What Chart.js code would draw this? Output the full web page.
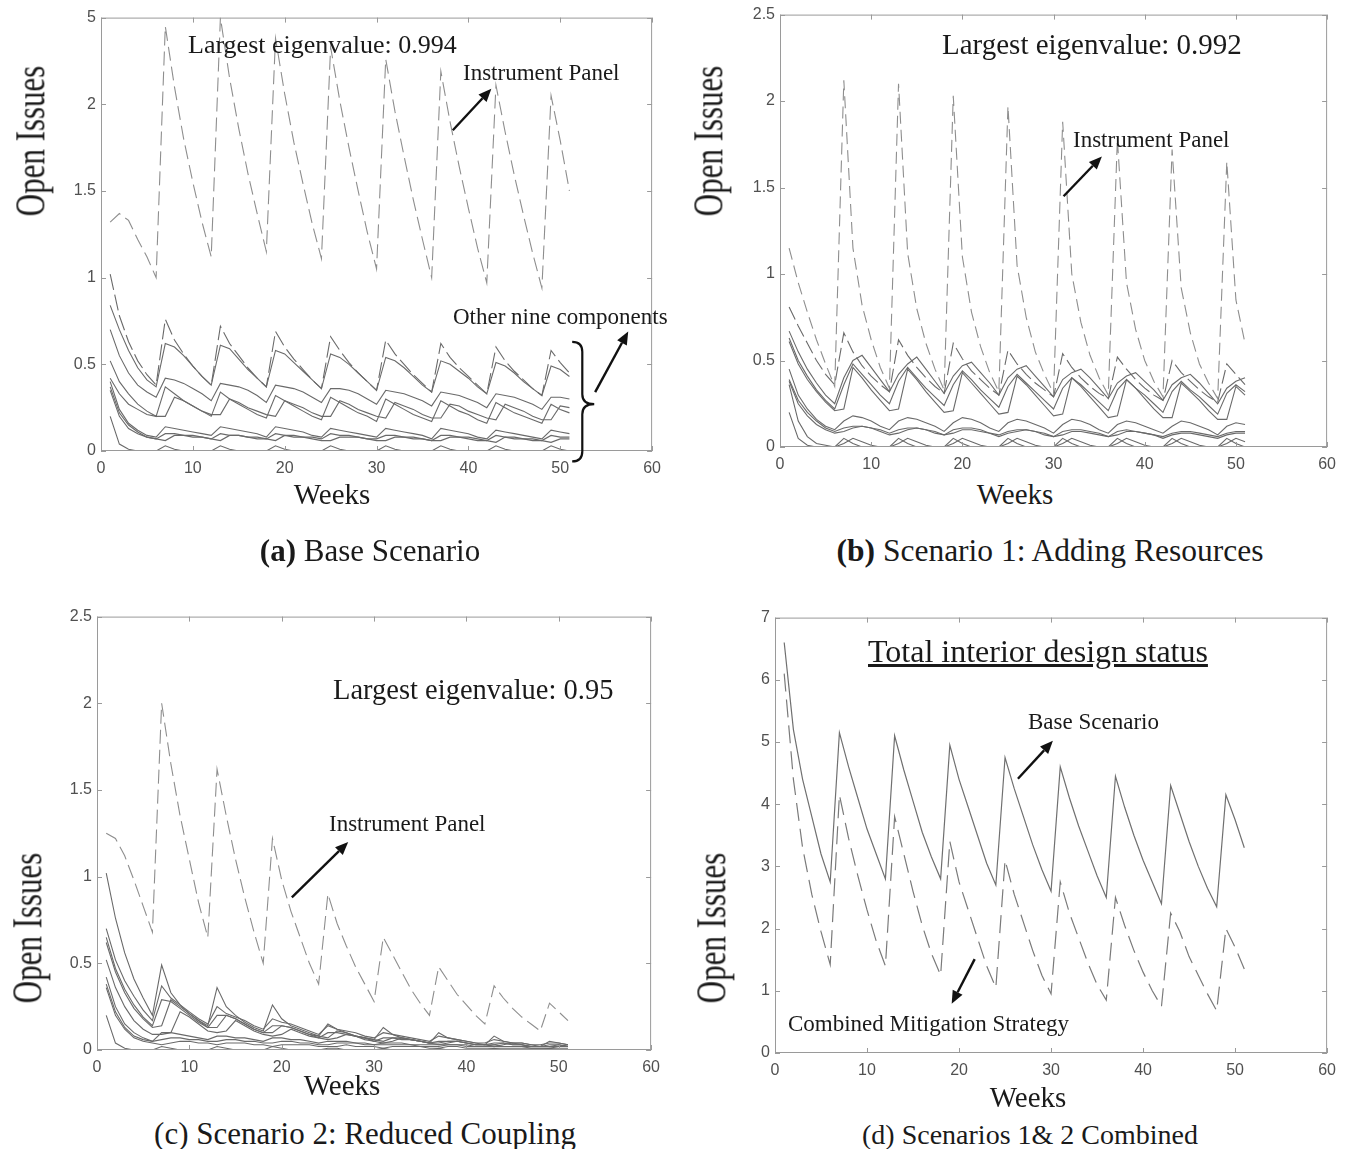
<!DOCTYPE html>
<html>
<head>
<meta charset="utf-8">
<title>Open issues per week</title>
<script src="https://cdn.jsdelivr.net/npm/chart.js"></script>
<style>
  body { margin: 0; background: #fff; width: 1349px; height: 1149px; position: relative; overflow: hidden; font-family: "Liberation Serif", "Times New Roman", serif; color: #1a1a1a; }
  canvas { position: absolute; }
  .t { position: absolute; white-space: nowrap; line-height: 1; transform: translate(0, -50%); }
  .c { transform: translate(-50%, -50%); }
  .yl { position: absolute; white-space: nowrap; line-height: 1; font-size: 31px; transform: translate(-50%, -50%) rotate(-90deg) scaleY(1.35); }
  .note { font-size: 23px; }
  .wk { font-size: 29px; }
</style>
</head>
<body>

<canvas id="pa"></canvas>
<canvas id="pb"></canvas>
<canvas id="pc"></canvas>
<canvas id="pd"></canvas>

<!-- (a) -->
<div class="t" style="left:188px;top:45px;font-size:26px">Largest eigenvalue: 0.994</div>
<div class="t note" style="left:463px;top:72px">Instrument Panel</div>
<div class="t note" style="left:453px;top:316px">Other nine components</div>
<div class="yl" style="left:30px;top:141px">Open Issues</div>
<div class="t c wk" style="left:332px;top:494px">Weeks</div>
<div class="t c" style="left:370px;top:550px;font-size:31px"><b>(a)</b> Base Scenario</div>

<!-- (b) -->
<div class="t" style="left:942px;top:44px;font-size:29px">Largest eigenvalue: 0.992</div>
<div class="t note" style="left:1073px;top:139px">Instrument Panel</div>
<div class="yl" style="left:708px;top:141px">Open Issues</div>
<div class="t c wk" style="left:1015px;top:494px">Weeks</div>
<div class="t c" style="left:1050px;top:551px;font-size:31.5px"><b>(b)</b> Scenario 1: Adding Resources</div>

<!-- (c) -->
<div class="t" style="left:333px;top:690px;font-size:28.5px">Largest eigenvalue: 0.95</div>
<div class="t note" style="left:329px;top:823px">Instrument Panel</div>
<div class="yl" style="left:27px;top:928px">Open Issues</div>
<div class="t c wk" style="left:342px;top:1085px">Weeks</div>
<div class="t c" style="left:365px;top:1133px;font-size:31px">(c) Scenario 2: Reduced Coupling</div>

<!-- (d) -->
<div class="t" style="left:868px;top:651px;font-size:32px;text-decoration:underline">Total interior design status</div>
<div class="t note" style="left:1028px;top:721px">Base Scenario</div>
<div class="t note" style="left:788px;top:1023px">Combined Mitigation Strategy</div>
<div class="yl" style="left:711px;top:928px">Open Issues</div>
<div class="t c wk" style="left:1028px;top:1097px">Weeks</div>
<div class="t c" style="left:1030px;top:1135px;font-size:28px">(d) Scenarios 1&amp; 2 Combined</div>

<script>
// weeks on the x axis
const weeks = [1,2,3,4,5,6,7,8,9,10,11,12,13,14,15,16,17,18,19,20,21,22,23,24,25,26,27,28,29,30,31,32,33,34,35,36,37,38,39,40,41,42,43,44,45,46,47,48,49,50,51];
const xTicks = [0, 10, 20, 30, 40, 50, 60];

// (a) base scenario
const ipA = [1.32,1.37,1.33,1.22,1.12,1.00, 2.45,2.10,1.80,1.55,1.32,1.12, 2.50,2.15,1.86,1.60,1.37,1.15, 2.38,2.06,1.78,1.54,1.31,1.11, 2.33,2.02,1.75,1.50,1.26,1.05, 2.26,1.96,1.70,1.45,1.22,1.00, 2.19,1.90,1.64,1.40,1.17,0.97, 2.11,1.84,1.59,1.36,1.14,0.94, 2.05,1.79,1.50];
const a1 = [1.02,0.78,0.63,0.52,0.44,0.38, 0.76,0.64,0.56,0.49,0.43,0.38, 0.72,0.62,0.55,0.48,0.42,0.37, 0.69,0.60,0.53,0.47,0.41,0.36, 0.66,0.58,0.51,0.45,0.40,0.35, 0.64,0.56,0.50,0.44,0.39,0.34, 0.62,0.54,0.48,0.43,0.38,0.33, 0.60,0.52,0.46,0.41,0.36,0.32, 0.58,0.51,0.45];
const a2 = [0.84,0.70,0.58,0.48,0.41,0.37, 0.62,0.60,0.55,0.49,0.43,0.38, 0.61,0.59,0.53,0.47,0.42,0.37, 0.58,0.56,0.51,0.46,0.41,0.36, 0.56,0.54,0.50,0.45,0.40,0.35, 0.54,0.52,0.48,0.43,0.38,0.34, 0.52,0.50,0.46,0.42,0.37,0.33, 0.51,0.49,0.45,0.40,0.36,0.32, 0.49,0.47,0.43];
const a3 = [0.70,0.55,0.45,0.38,0.34,0.31, 0.42,0.41,0.39,0.36,0.33,0.29, 0.39,0.38,0.37,0.35,0.32,0.28, 0.38,0.37,0.36,0.34,0.31,0.28, 0.36,0.36,0.35,0.33,0.30,0.27, 0.35,0.34,0.33,0.31,0.29,0.26, 0.34,0.33,0.32,0.30,0.28,0.25, 0.33,0.32,0.31,0.29,0.27,0.24, 0.31,0.31,0.30];
const a4 = [0.52,0.40,0.33,0.27,0.23,0.20, 0.37,0.33,0.29,0.26,0.23,0.20, 0.34,0.30,0.27,0.24,0.21,0.19, 0.32,0.29,0.26,0.23,0.20,0.18, 0.31,0.28,0.25,0.22,0.20,0.17, 0.30,0.27,0.24,0.21,0.19,0.17, 0.29,0.26,0.23,0.21,0.18,0.16, 0.28,0.25,0.22,0.20,0.18,0.16, 0.27,0.24,0.22];
const a5 = [0.42,0.33,0.27,0.24,0.21,0.20, 0.20,0.31,0.29,0.26,0.23,0.21, 0.21,0.30,0.28,0.25,0.23,0.21, 0.20,0.29,0.27,0.25,0.22,0.20, 0.20,0.29,0.27,0.24,0.22,0.20, 0.19,0.28,0.26,0.24,0.21,0.19, 0.19,0.27,0.26,0.23,0.21,0.19, 0.18,0.27,0.25,0.23,0.20,0.18, 0.18,0.26,0.25];
const a6 = [0.40,0.24,0.16,0.12,0.09,0.08, 0.14,0.13,0.12,0.11,0.10,0.09, 0.14,0.13,0.12,0.11,0.10,0.08, 0.14,0.13,0.12,0.11,0.09,0.08, 0.13,0.12,0.11,0.10,0.09,0.08, 0.13,0.12,0.11,0.10,0.09,0.07, 0.13,0.12,0.11,0.10,0.08,0.07, 0.12,0.11,0.10,0.09,0.08,0.07, 0.12,0.11,0.10];
const a7 = [0.37,0.22,0.15,0.11,0.08,0.07, 0.10,0.10,0.09,0.09,0.08,0.07, 0.10,0.09,0.09,0.08,0.08,0.07, 0.10,0.09,0.09,0.08,0.08,0.07, 0.10,0.09,0.09,0.08,0.07,0.07, 0.09,0.09,0.08,0.08,0.07,0.06, 0.09,0.09,0.08,0.08,0.07,0.06, 0.09,0.08,0.08,0.07,0.07,0.06, 0.09,0.08,0.08];
const a8 = [0.35,0.20,0.13,0.10,0.08,0.07, 0.06,0.09,0.09,0.08,0.08,0.07, 0.06,0.09,0.09,0.08,0.07,0.07, 0.06,0.09,0.08,0.08,0.07,0.06, 0.06,0.08,0.08,0.08,0.07,0.06, 0.06,0.08,0.08,0.07,0.07,0.06, 0.06,0.08,0.08,0.07,0.06,0.06, 0.05,0.08,0.07,0.07,0.06,0.06, 0.05,0.07,0.07];
const a9 = [0.20,0.04,0.01,0.00,0.00,0.00, 0.03,0.01,0.00,0.00,0.00,0.00, 0.03,0.01,0.00,0.00,0.00,0.00, 0.03,0.01,0.00,0.00,0.00,0.00, 0.03,0.01,0.00,0.00,0.00,0.00, 0.03,0.01,0.00,0.00,0.00,0.00, 0.03,0.01,0.00,0.00,0.00,0.00, 0.03,0.01,0.00,0.00,0.00,0.00, 0.03,0.01,0.00];

// (b) adding resources
const ipB = [1.15,0.95,0.78,0.62,0.48,0.35, 2.12,1.15,0.82,0.62,0.46,0.34, 2.10,1.12,0.80,0.60,0.45,0.33, 2.03,1.10,0.78,0.58,0.43,0.32, 1.97,1.05,0.75,0.55,0.42,0.31, 1.88,1.00,0.72,0.53,0.40,0.30, 1.78,0.95,0.68,0.50,0.38,0.29, 1.72,0.92,0.66,0.48,0.37,0.28, 1.65,0.85,0.60];
const b1 = [0.81,0.70,0.60,0.50,0.42,0.36, 0.66,0.55,0.47,0.41,0.36,0.32, 0.62,0.53,0.46,0.40,0.35,0.31, 0.60,0.51,0.44,0.39,0.34,0.30, 0.56,0.48,0.42,0.37,0.33,0.29, 0.54,0.46,0.40,0.35,0.31,0.28, 0.52,0.45,0.39,0.34,0.30,0.27, 0.50,0.43,0.38,0.33,0.29,0.26, 0.48,0.42,0.36];
const b2 = [0.67,0.55,0.45,0.37,0.30,0.25, 0.40,0.50,0.53,0.46,0.39,0.32, 0.42,0.48,0.52,0.45,0.38,0.31, 0.41,0.47,0.49,0.43,0.37,0.30, 0.40,0.45,0.47,0.41,0.35,0.29, 0.39,0.43,0.45,0.40,0.34,0.28, 0.37,0.41,0.43,0.38,0.33,0.27, 0.36,0.40,0.42,0.37,0.31,0.25, 0.34,0.38,0.40];
const b3 = [0.63,0.50,0.41,0.33,0.27,0.22, 0.36,0.48,0.42,0.36,0.30,0.25, 0.38,0.46,0.40,0.34,0.29,0.24, 0.36,0.44,0.39,0.33,0.28,0.23, 0.35,0.42,0.37,0.32,0.27,0.22, 0.34,0.40,0.36,0.31,0.26,0.21, 0.33,0.39,0.34,0.30,0.25,0.20, 0.32,0.38,0.33,0.29,0.24,0.19, 0.31,0.36,0.32];
const b4 = [0.61,0.48,0.39,0.32,0.26,0.21, 0.22,0.46,0.40,0.33,0.27,0.21, 0.22,0.45,0.39,0.32,0.26,0.20, 0.21,0.43,0.37,0.31,0.25,0.19, 0.20,0.41,0.36,0.30,0.24,0.18, 0.19,0.40,0.35,0.29,0.23,0.17, 0.18,0.39,0.34,0.28,0.22,0.17, 0.17,0.37,0.32,0.27,0.21,0.16, 0.16,0.35,0.30];
const b5 = [0.45,0.30,0.22,0.16,0.12,0.10, 0.15,0.18,0.17,0.15,0.12,0.10, 0.15,0.17,0.16,0.14,0.12,0.09, 0.14,0.17,0.16,0.14,0.11,0.09, 0.14,0.16,0.15,0.13,0.11,0.08, 0.13,0.16,0.15,0.13,0.10,0.08, 0.13,0.15,0.14,0.12,0.10,0.08, 0.12,0.15,0.14,0.12,0.10,0.07, 0.12,0.14,0.13];
const b6 = [0.39,0.27,0.20,0.15,0.11,0.09, 0.11,0.12,0.12,0.11,0.10,0.08, 0.10,0.11,0.11,0.10,0.09,0.07, 0.10,0.11,0.11,0.10,0.08,0.07, 0.09,0.10,0.10,0.09,0.08,0.06, 0.09,0.10,0.10,0.09,0.08,0.06, 0.09,0.10,0.09,0.08,0.07,0.06, 0.08,0.09,0.09,0.08,0.07,0.06, 0.08,0.09,0.09];
const b7 = [0.38,0.25,0.18,0.13,0.10,0.08, 0.09,0.11,0.12,0.11,0.09,0.07, 0.08,0.10,0.11,0.10,0.08,0.07, 0.08,0.10,0.10,0.09,0.08,0.06, 0.08,0.09,0.10,0.09,0.07,0.06, 0.07,0.09,0.09,0.08,0.07,0.06, 0.07,0.09,0.09,0.08,0.07,0.05, 0.07,0.08,0.08,0.07,0.06,0.05, 0.07,0.08,0.08];
const b8 = [0.20,0.05,0.01,0.00,0.00,0.00, 0.05,0.02,0.00,0.00,0.00,0.00, 0.05,0.02,0.00,0.00,0.00,0.00, 0.05,0.02,0.00,0.00,0.00,0.00, 0.05,0.02,0.00,0.00,0.00,0.00, 0.05,0.02,0.00,0.00,0.00,0.00, 0.05,0.02,0.00,0.00,0.00,0.00, 0.05,0.02,0.00,0.00,0.00,0.00, 0.05,0.02,0.00];
const b9 = [0.36,0.15,0.06,0.02,0.01,0.00, 0.02,0.05,0.03,0.01,0.00,0.00, 0.02,0.05,0.03,0.01,0.00,0.00, 0.02,0.05,0.03,0.01,0.00,0.00, 0.02,0.05,0.03,0.01,0.00,0.00, 0.02,0.05,0.03,0.01,0.00,0.00, 0.02,0.05,0.03,0.01,0.00,0.00, 0.02,0.05,0.03,0.01,0.00,0.00, 0.02,0.05,0.03];

// (c) reduced coupling
const ipC = [1.25,1.22,1.12,0.98,0.83,0.68, 2.00,1.65,1.35,1.10,0.85,0.65, 1.62,1.35,1.10,0.88,0.68,0.50, 1.22,0.98,0.80,0.65,0.50,0.38, 0.90,0.73,0.60,0.48,0.38,0.28, 0.65,0.55,0.45,0.35,0.27,0.20, 0.48,0.40,0.32,0.26,0.20,0.15, 0.37,0.30,0.24,0.19,0.15,0.11, 0.27,0.22,0.17];
const c1 = [1.02,0.76,0.56,0.41,0.30,0.20, 0.49,0.33,0.26,0.21,0.17,0.14, 0.36,0.25,0.20,0.16,0.13,0.11, 0.26,0.18,0.14,0.12,0.10,0.08, 0.15,0.12,0.10,0.08,0.07,0.06, 0.13,0.09,0.07,0.06,0.05,0.04, 0.10,0.07,0.06,0.05,0.04,0.03, 0.08,0.05,0.04,0.04,0.03,0.02, 0.05,0.04,0.03];
const c2 = [0.70,0.52,0.40,0.31,0.23,0.17, 0.37,0.30,0.26,0.22,0.18,0.15, 0.25,0.21,0.19,0.17,0.14,0.12, 0.18,0.16,0.15,0.13,0.11,0.09, 0.14,0.12,0.11,0.10,0.08,0.07, 0.10,0.09,0.08,0.07,0.06,0.05, 0.08,0.07,0.06,0.05,0.04,0.04, 0.06,0.05,0.04,0.04,0.03,0.03, 0.04,0.04,0.03];
const c3 = [0.65,0.47,0.35,0.26,0.19,0.14, 0.29,0.28,0.24,0.20,0.16,0.13, 0.20,0.20,0.18,0.15,0.12,0.10, 0.14,0.14,0.13,0.11,0.09,0.07, 0.10,0.10,0.09,0.08,0.07,0.05, 0.07,0.07,0.06,0.06,0.05,0.04, 0.05,0.05,0.05,0.04,0.03,0.03, 0.04,0.04,0.03,0.03,0.02,0.02, 0.03,0.03,0.02];
const c4 = [0.62,0.45,0.33,0.24,0.18,0.13, 0.14,0.29,0.25,0.21,0.17,0.13, 0.13,0.20,0.18,0.15,0.12,0.10, 0.10,0.14,0.13,0.11,0.09,0.08, 0.07,0.11,0.10,0.08,0.07,0.06, 0.05,0.07,0.07,0.06,0.05,0.04, 0.04,0.05,0.05,0.04,0.03,0.03, 0.03,0.04,0.03,0.03,0.02,0.02, 0.02,0.03,0.02];
const c5 = [0.52,0.36,0.25,0.17,0.12,0.09, 0.09,0.10,0.22,0.19,0.15,0.11, 0.10,0.11,0.17,0.14,0.11,0.09, 0.08,0.09,0.12,0.10,0.08,0.07, 0.06,0.07,0.09,0.08,0.06,0.05, 0.04,0.05,0.07,0.06,0.05,0.04, 0.03,0.04,0.05,0.04,0.03,0.03, 0.02,0.03,0.04,0.03,0.02,0.02, 0.02,0.02,0.03];
const c6 = [0.42,0.25,0.15,0.10,0.07,0.05, 0.10,0.10,0.09,0.08,0.07,0.06, 0.08,0.08,0.07,0.07,0.06,0.05, 0.07,0.07,0.06,0.06,0.05,0.04, 0.05,0.05,0.05,0.04,0.04,0.03, 0.04,0.04,0.04,0.03,0.03,0.03, 0.03,0.03,0.03,0.03,0.02,0.02, 0.03,0.02,0.02,0.02,0.02,0.02, 0.02,0.02,0.02];
const c7 = [0.38,0.22,0.13,0.08,0.06,0.05, 0.06,0.07,0.07,0.06,0.06,0.05, 0.05,0.06,0.06,0.05,0.05,0.04, 0.04,0.05,0.05,0.04,0.04,0.03, 0.03,0.04,0.04,0.04,0.03,0.03, 0.03,0.03,0.03,0.03,0.02,0.02, 0.02,0.03,0.03,0.02,0.02,0.02, 0.02,0.02,0.02,0.02,0.01,0.01, 0.01,0.02,0.02];
const c8 = [0.36,0.20,0.12,0.07,0.05,0.04, 0.03,0.04,0.05,0.05,0.04,0.04, 0.03,0.04,0.04,0.04,0.03,0.03, 0.02,0.03,0.03,0.03,0.03,0.02, 0.02,0.02,0.03,0.02,0.02,0.02, 0.01,0.02,0.02,0.02,0.02,0.01, 0.01,0.02,0.02,0.01,0.01,0.01, 0.01,0.01,0.01,0.01,0.01,0.01, 0.01,0.01,0.01];
const c9 = [0.20,0.04,0.01,0.00,0.00,0.00, 0.02,0.01,0.00,0.00,0.00,0.00, 0.02,0.01,0.00,0.00,0.00,0.00, 0.02,0.01,0.00,0.00,0.00,0.00, 0.01,0.01,0.00,0.00,0.00,0.00, 0.01,0.00,0.00,0.00,0.00,0.00, 0.01,0.00,0.00,0.00,0.00,0.00, 0.01,0.00,0.00,0.00,0.00,0.00, 0.01,0.00,0.00];

// (d) total interior design status
const baseD = [6.60,5.20,4.40,3.80,3.20,2.75, 5.15,4.60,4.10,3.60,3.20,2.80, 5.10,4.55,4.05,3.55,3.15,2.80, 4.95,4.40,3.95,3.50,3.05,2.70, 4.75,4.25,3.80,3.35,2.95,2.60, 4.60,4.10,3.65,3.25,2.85,2.50, 4.45,3.95,3.50,3.10,2.75,2.40, 4.30,3.85,3.40,3.00,2.65,2.35, 4.15,3.75,3.30];
const combD = [6.10,4.40,3.30,2.55,1.95,1.42, 4.15,3.45,2.85,2.30,1.80,1.40, 3.80,3.20,2.60,2.05,1.60,1.25, 3.40,2.75,2.30,1.85,1.40,1.05, 3.10,2.55,2.10,1.65,1.25,0.95, 2.75,2.25,1.85,1.45,1.10,0.85, 2.50,2.05,1.65,1.30,1.00,0.75, 2.25,1.95,1.55,1.25,0.95,0.68, 2.00,1.70,1.35];

const IP_COLOR = '#8e8e8e';
const COMP_COLOR = '#6a6a6a';

function line(label, vals, color, dash, width) {
    return {
        label: label,
        data: weeks.map((w, i) => ({ x: w, y: vals[i] })),
        borderColor: color,
        borderWidth: width || 1.1,
        borderDash: dash || [],
        pointRadius: 0,
        tension: 0,
        fill: false
    };
}

// box round the axes, matlab-like inward ticks, arrows and the brace
const figNotes = {
    id: 'figNotes',
    afterDraw(chart, args, opts) {
        const { ctx, chartArea: a, scales: { x, y } } = chart;
        ctx.save();
        ctx.strokeStyle = '#9a9a9a';
        ctx.lineWidth = 1;
        ctx.setLineDash([]);
        ctx.strokeRect(a.left + 0.5, a.top + 0.5, a.right - a.left - 1, a.bottom - a.top - 1);
        ctx.beginPath();
        x.ticks.forEach(t => {
            const p = Math.round(x.getPixelForValue(t.value)) + 0.5;
            ctx.moveTo(p, a.bottom); ctx.lineTo(p, a.bottom - 5);
            ctx.moveTo(p, a.top); ctx.lineTo(p, a.top + 5);
        });
        y.ticks.forEach(t => {
            const p = Math.round(y.getPixelForValue(t.value)) + 0.5;
            ctx.moveTo(a.left, p); ctx.lineTo(a.left + 5, p);
            ctx.moveTo(a.right, p); ctx.lineTo(a.right - 5, p);
        });
        ctx.stroke();

        ctx.strokeStyle = '#111';
        ctx.fillStyle = '#111';
        ctx.lineWidth = 2.4;
        (opts.arrows || []).forEach(ar => {
            const x0 = x.getPixelForValue(ar[0]), y0 = y.getPixelForValue(ar[1]);
            const x1 = x.getPixelForValue(ar[2]), y1 = y.getPixelForValue(ar[3]);
            const ang = Math.atan2(y1 - y0, x1 - x0);
            const hl = 13, hw = 5.5;
            const bx = x1 - hl * Math.cos(ang), by = y1 - hl * Math.sin(ang);
            ctx.beginPath();
            ctx.moveTo(x0, y0); ctx.lineTo(bx, by);
            ctx.stroke();
            ctx.beginPath();
            ctx.moveTo(x1, y1);
            ctx.lineTo(bx + hw * Math.sin(ang), by - hw * Math.cos(ang));
            ctx.lineTo(bx - hw * Math.sin(ang), by + hw * Math.cos(ang));
            ctx.closePath();
            ctx.fill();
        });

        const b = opts.brace;
        if (b) {
            const X0 = x.getPixelForValue(b.ends), X1 = x.getPixelForValue(b.spine), X2 = x.getPixelForValue(b.tip);
            const Yt = y.getPixelForValue(b.top), Ym = y.getPixelForValue(b.mid), Yb = y.getPixelForValue(b.bottom);
            const r = 10;
            ctx.lineWidth = 2.2;
            ctx.beginPath();
            ctx.moveTo(X0, Yt);
            ctx.quadraticCurveTo(X1, Yt, X1, Yt + r);
            ctx.lineTo(X1, Ym - r);
            ctx.quadraticCurveTo(X1, Ym, X2, Ym);
            ctx.quadraticCurveTo(X1, Ym, X1, Ym + r);
            ctx.lineTo(X1, Yb - r);
            ctx.quadraticCurveTo(X1, Yb, X0, Yb);
            ctx.stroke();
        }
        ctx.restore();
    }
};

const tickFont = { family: '"Liberation Sans", Arial, sans-serif', size: 16 };

function makeChart(cv, datasets, yMax, yStep, notes, yLabel) {
    return new Chart(cv, {
        type: 'line',
        data: { datasets: datasets },
        plugins: [figNotes],
        options: {
            responsive: false,
            animation: false,
            devicePixelRatio: 1,
            layout: { padding: { top: 12, right: 12, left: 0, bottom: 0 } },
            plugins: {
                legend: { display: false },
                tooltip: { enabled: false },
                figNotes: notes
            },
            scales: {
                x: {
                    type: 'linear', min: 0, max: 60,
                    afterBuildTicks: s => { s.ticks = xTicks.map(v => ({ value: v })); },
                    afterFit: s => { s.height = 30; },
                    grid: { display: false, drawTicks: false },
                    border: { display: false },
                    ticks: { color: '#505050', font: tickFont, padding: 8, maxRotation: 0 }
                },
                y: {
                    type: 'linear', min: 0, max: yMax,
                    afterFit: s => { s.width = 50; },
                    grid: { display: false, drawTicks: false },
                    border: { display: false },
                    ticks: { stepSize: yStep, color: '#505050', font: tickFont, padding: 5, callback: yLabel || (v => v) }
                }
            }
        }
    });
}

// draw once, measure the plot box, then size and place the canvas so the box lands on g
function panel(id, g, datasets, yMax, yStep, notes, yLabel) {
    const cv = document.getElementById(id);
    const W = g.r - g.l, H = g.b - g.t;
    cv.width = W + 62; cv.height = H + 42;
    let chart = makeChart(cv, datasets, yMax, yStep, notes, yLabel);
    let ca = chart.chartArea;
    const dw = (ca.right - ca.left) - W, dh = (ca.bottom - ca.top) - H;
    chart.destroy();
    cv.width = W + 62 - dw; cv.height = H + 42 - dh;
    cv.style.width = cv.width + 'px'; cv.style.height = cv.height + 'px';
    chart = makeChart(cv, datasets, yMax, yStep, notes, yLabel);
    ca = chart.chartArea;
    cv.style.left = (g.l - ca.left) + 'px';
    cv.style.top = (g.t - ca.top) + 'px';
    return chart;
}

panel('pa', { l: 101, t: 18, r: 653, b: 452 }, [
    line('Instrument Panel', ipA, IP_COLOR, [14, 6]),
    line('Component 1', a1, COMP_COLOR, [16, 5]),
    line('Component 2', a2, COMP_COLOR),
    line('Component 3', a3, COMP_COLOR),
    line('Component 4', a4, COMP_COLOR),
    line('Component 5', a5, COMP_COLOR),
    line('Component 6', a6, COMP_COLOR),
    line('Component 7', a7, COMP_COLOR),
    line('Component 8', a8, COMP_COLOR),
    line('Component 9', a9, COMP_COLOR)
], 2.5, 0.5, {
    arrows: [[38.3, 1.85, 42.5, 2.09], [53.8, 0.34, 57.4, 0.69]],
    brace: { ends: 51.3, spine: 52.4, tip: 53.7, top: 0.63, mid: 0.27, bottom: -0.06 }
}, v => (v === 2.5 ? '5' : v));

panel('pb', { l: 780, t: 15, r: 1328, b: 448 }, [
    line('Instrument Panel', ipB, IP_COLOR, [12, 6]),
    line('Component 1', b1, COMP_COLOR, [14, 5]),
    line('Component 2', b2, COMP_COLOR),
    line('Component 3', b3, COMP_COLOR),
    line('Component 4', b4, COMP_COLOR),
    line('Component 5', b5, COMP_COLOR),
    line('Component 6', b6, COMP_COLOR),
    line('Component 7', b7, COMP_COLOR),
    line('Component 8', b8, COMP_COLOR),
    line('Component 9', b9, COMP_COLOR)
], 2.5, 0.5, { arrows: [[31.1, 1.45, 35.3, 1.68]] });

panel('pc', { l: 97, t: 617, r: 652, b: 1051 }, [
    line('Instrument Panel', ipC, IP_COLOR, [14, 6]),
    line('Component 1', c1, COMP_COLOR),
    line('Component 2', c2, COMP_COLOR),
    line('Component 3', c3, COMP_COLOR),
    line('Component 4', c4, COMP_COLOR),
    line('Component 5', c5, COMP_COLOR),
    line('Component 6', c6, COMP_COLOR),
    line('Component 7', c7, COMP_COLOR),
    line('Component 8', c8, COMP_COLOR),
    line('Component 9', c9, COMP_COLOR)
], 2.5, 0.5, { arrows: [[21.1, 0.88, 27.2, 1.20]] });

panel('pd', { l: 775, t: 618, r: 1328, b: 1054 }, [
    line('Base Scenario', baseD, '#707070', [], 1.2),
    line('Combined Mitigation Strategy', combD, '#7a7a7a', [18, 8], 1.2)
], 7, 1, { arrows: [[26.4, 4.41, 30.2, 5.02], [21.7, 1.51, 19.2, 0.79]] });
</script>
</body>
</html>
